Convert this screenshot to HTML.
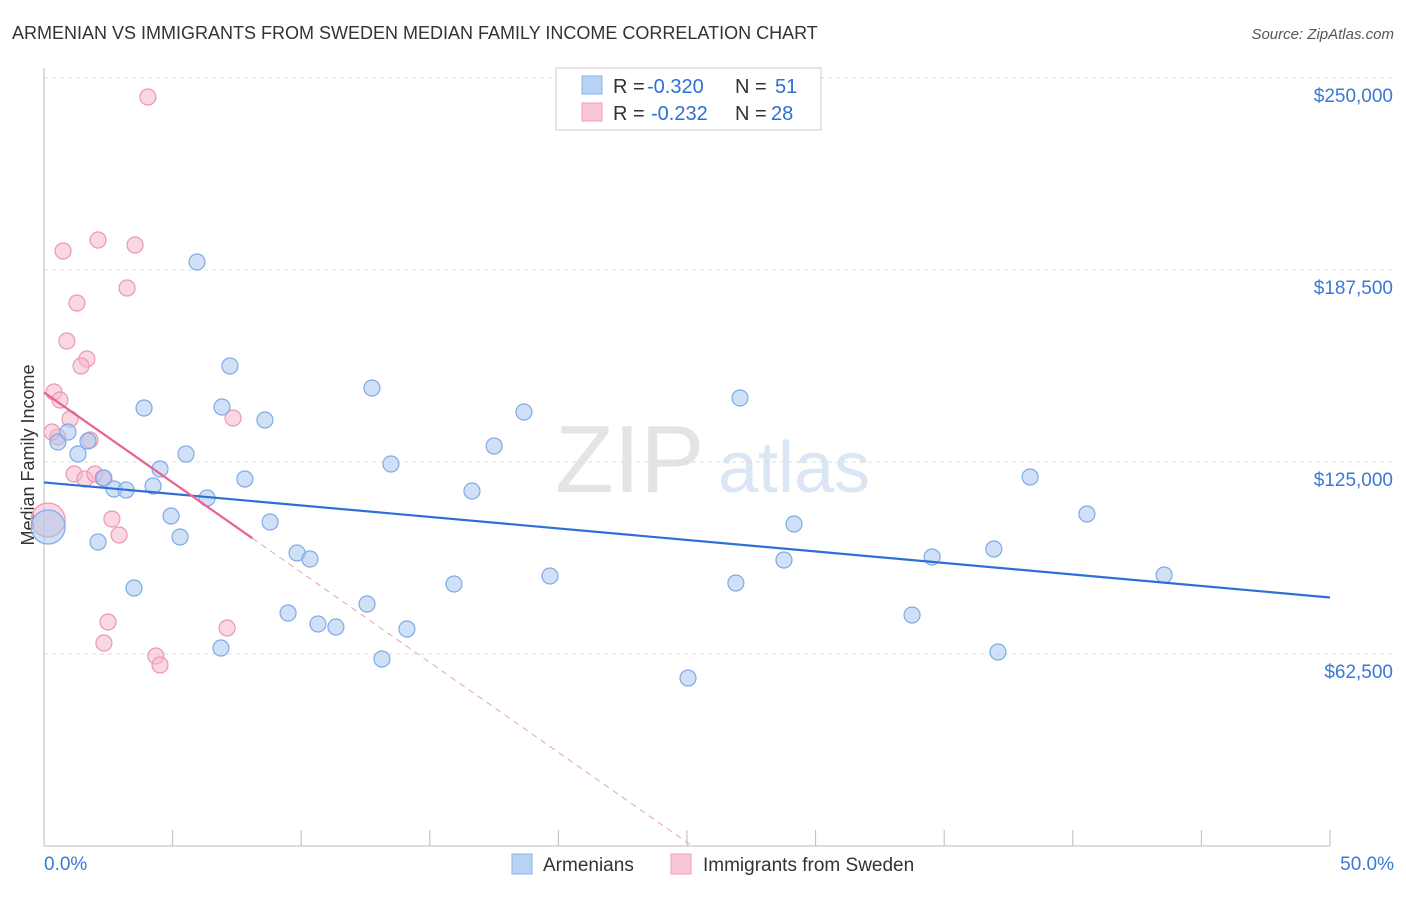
<!DOCTYPE html>
<html><head><meta charset="utf-8">
<style>
body{margin:0;background:#fff;font-family:"Liberation Sans",sans-serif;}
svg text{font-family:"Liberation Sans",sans-serif;}
</style></head>
<body>
<svg id="chart" width="1406" height="892" viewBox="0 0 1406 892" xmlns="http://www.w3.org/2000/svg">
<text x="12" y="39" font-size="18" fill="#333">ARMENIAN VS IMMIGRANTS FROM SWEDEN MEDIAN FAMILY INCOME CORRELATION CHART</text>
<text x="1394" y="39" font-size="15" fill="#555" font-style="italic" text-anchor="end">Source: ZipAtlas.com</text>
<text x="555" y="492" font-size="96" fill="#e4e4e4" font-family="Liberation Serif">ZIP</text>
<text x="718" y="492" font-size="72" fill="#dbe6f5">atlas</text>
<text transform="translate(34,455) rotate(-90)" font-size="18" fill="#333" text-anchor="middle">Median Family Income</text>
<g id="grid"></g><g id="marks"></g>
<g>
<rect x="556" y="68" width="265" height="62" fill="#fff" stroke="#ccc"/>
<rect x="582" y="76" width="20" height="18" fill="#b8d2f4" stroke="#8ab4e8"/>
<text x="613" y="93" font-size="20" fill="#333">R =</text>
<text x="647" y="93" font-size="20" fill="#2d6fd6">-0.320</text>
<text x="735" y="93" font-size="20" fill="#333">N =</text>
<text x="775" y="93" font-size="20" fill="#2d6fd6">51</text>
<rect x="582" y="103" width="20" height="18" fill="#f8c6d5" stroke="#eea0b8"/>
<text x="613" y="120" font-size="20" fill="#333">R =</text>
<text x="651" y="120" font-size="20" fill="#2d6fd6">-0.232</text>
<text x="735" y="120" font-size="20" fill="#333">N =</text>
<text x="771" y="120" font-size="20" fill="#2d6fd6">28</text>
</g>
<g>
<rect x="512" y="854" width="20" height="20" fill="#b8d2f4" stroke="#8ab4e8"/>
<text x="543" y="871" font-size="19" fill="#333">Armenians</text>
<rect x="671" y="854" width="20" height="20" fill="#f8c6d5" stroke="#eea0b8"/>
<text x="703" y="871" font-size="19" fill="#333">Immigrants from Sweden</text>
</g>
<text x="44" y="870" font-size="19" fill="#3a78d4">0.0%</text>
<text x="1394" y="870" font-size="19" fill="#3a78d4" text-anchor="end">50.0%</text>
</svg>
<script>
const yTicks=[62500,125000,187500,250000];
const yTickLabels=["$62,500","$125,000","$187,500","$250,000"];
const xTicks=[0,5,10,15,20,25,30,35,40,45,50];
const armX=[0.54,0.93,1.32,1.71,2.10,2.33,2.72,3.19,3.50,3.89,4.24,4.51,4.94,5.29,5.52,5.95,6.34,6.88,6.92,7.23,7.81,8.59,8.79,9.49,9.84,10.34,10.65,11.35,12.56,12.75,13.14,13.49,14.11,15.94,16.64,17.50,18.66,19.67,25.04,26.90,27.06,28.77,29.16,33.75,34.53,36.93,37.09,38.34,40.55,43.55,0.16];
const armY=[131510,134765,127604,131836,98960,119792,116211,115886,83984,142578,117188,122721,107422,100586,127604,190104,113281,64453,142904,156250,119466,138672,105469,75846,95378,93424,72266,71289,78776,149089,60872,124349,70638,85286,115560,130208,141276,87891,54688,85612,145833,93099,104818,75195,94076,96680,63151,120117,108073,88216,103841];
const sweX=[4.04,0.74,2.10,3.54,3.23,1.28,0.89,1.67,1.44,0.39,0.62,1.01,7.35,0.54,1.79,1.17,1.59,1.98,2.29,2.64,2.92,0.16,2.49,2.33,7.12,4.35,4.51,0.31];
const sweY=[243815,193685,197266,195638,181641,176758,164388,158529,156250,147786,145182,138997,139323,133138,132161,121094,119466,121094,119792,106445,101237,106120,72917,66085,70964,61849,58919,134765];
const armTrend=[118350,80900];
const sweTrend=[147650,0,8.1,25.2];
const NS="http://www.w3.org/2000/svg";
const xs=p=>44+p/50*1286;
const ys=v=>846-v*0.003072;
const grid=document.getElementById('grid'),marks=document.getElementById('marks');
function mk(tag,attrs,parent){const e=document.createElementNS(NS,tag);for(const k in attrs)e.setAttribute(k,attrs[k]);parent.appendChild(e);return e;}
yTicks.forEach((v,i)=>{
 const l=mk('line',{x1:44,x2:1394,y1:ys(v),y2:ys(v),stroke:'#ddd','stroke-dasharray':'4,4'},grid);
 
 
 const t=mk('text',{x:1393,y:ys(v)+24,'font-size':19,fill:'#3a78d4','text-anchor':'end'},grid);
 t.textContent=yTickLabels[i];
 
 
});
const ax=mk('line',{x1:44,x2:1330,y1:846,y2:846,stroke:'#bbb'},grid);


const ay=mk('line',{x1:44,x2:44,y1:68,y2:846,stroke:'#bbb'},grid);


xTicks.forEach(p=>{
 const t=mk('line',{x1:xs(p),x2:xs(p),y1:830,y2:846,stroke:'#bbb'},grid);
 
 
});
function dot(x,y,big,blue){
 const c=mk('circle',{cx:xs(x),cy:ys(y),r:big?17:8,fill:blue?'rgba(169,200,240,0.55)':'rgba(245,184,203,0.55)',stroke:blue?'#7eaae6':'#ec97b2','stroke-width':1.2},marks);
 
 
}
sweX.forEach((x,i)=>dot(x,sweY[i],i===21,false));
armX.forEach((x,i)=>dot(x,armY[i],i===50,true));
const bt=mk('line',{x1:xs(0),y1:ys(armTrend[0]),x2:xs(50),y2:ys(armTrend[1]),stroke:'#2d6fd6','stroke-width':2.2},marks);


const slope=(sweTrend[1]-sweTrend[0])/sweTrend[3];
const ps=mk('line',{x1:xs(0),y1:ys(sweTrend[0]),x2:xs(sweTrend[2]),y2:ys(sweTrend[0]+slope*sweTrend[2]),stroke:'#e8628c','stroke-width':2.2},marks);


const pd=mk('line',{x1:xs(sweTrend[2]),y1:ys(sweTrend[0]+slope*sweTrend[2]),x2:xs(sweTrend[3]),y2:ys(sweTrend[1]),stroke:'#e8a0b6','stroke-width':1,'stroke-dasharray':'6,5'},marks);


</script>
</body></html>
